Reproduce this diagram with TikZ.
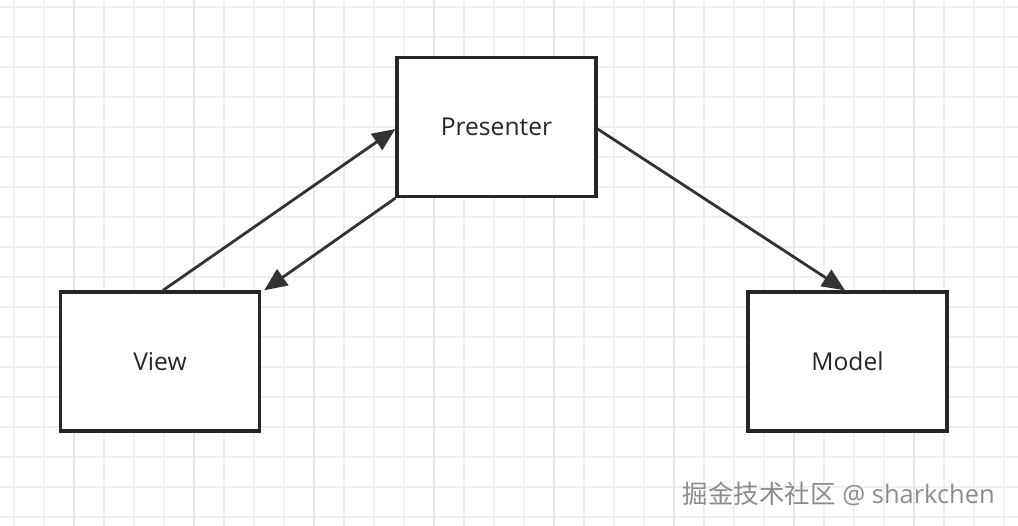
\documentclass[tikz,border=0pt]{standalone}
\usepackage{fontspec}
\setmainfont{Open Sans}
\newfontfamily\cjkfont{Noto Sans CJK SC}
\usetikzlibrary{arrows.meta,positioning}

\begin{document}
\begin{tikzpicture}[
  x=0.02cm, y=-0.02cm,
  box/.style={rectangle, draw=black!85, line width=1.9pt, fill=white, minimum width=3.98cm, minimum height=2.78cm, font=\fontsize{14}{16}\selectfont, text=black!85},
  link/.style={draw=black!80, line width=1.6pt, -{Triangle[length=13pt, width=11pt]}},
  gridline/.style={draw=black!6, line width=0.6pt}
]
  \useasboundingbox (0,0) rectangle (1018,526);
  \fill[white] (0,0) rectangle (1018,526);
  % Grid
  \foreach \gx in {0,...,33} {
    \draw[gridline] (14+30*\gx,0) -- (14+30*\gx,526);
  }
  \foreach \gy in {0,...,17} {
    \draw[gridline] (0,7+30*\gy) -- (1018,7+30*\gy);
  }
  \foreach \gx in {0,...,7} {
    \draw[gridline, draw=black!10] (74+120*\gx,0) -- (74+120*\gx,526);
  }
  % Boxes
  \node[box] (presenter) at (496.5,127) {Presenter};
  \node[box] (view) at (160,361.5) {View};
  \node[box] (model) at (847.5,361.5) {Model};
  % Arrows
  \coordinate (viewtop) at ([xshift=0.06cm]view.north);
  \coordinate (presleft) at ([yshift=-0.04cm]presenter.west);
  \coordinate (presright) at ([yshift=-0.04cm]presenter.east);
  \coordinate (modeltop) at ([xshift=-0.05cm]model.north);
  \draw[link] (viewtop) -- (presleft);
  \draw[link] (presenter.south west) -- ([xshift=0.06cm]view.north east);
  \draw[link] (presright) -- (modeltop);
  % Watermark
  \node[font=\fontsize{14.5}{17}\selectfont, text=black!45, anchor=east] (mark) at (1001,494) {{\cjkfont 掘金技术社区} @ sharkchen};
\end{tikzpicture}
\end{document}
